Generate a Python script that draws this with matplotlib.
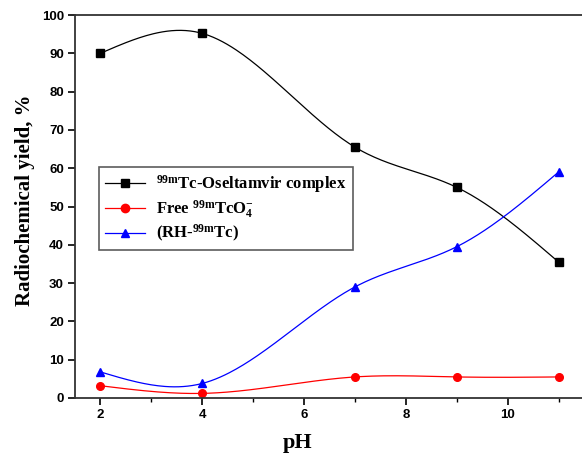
import numpy as np
import matplotlib
matplotlib.use("Agg")
import matplotlib.pyplot as plt

ph = [2, 4, 7, 9, 11]
complex_yield = [90.0, 95.2, 65.5, 55.0, 35.5]
free_tco4 = [3.2, 1.2, 5.5, 5.5, 5.5]
rh_tc = [6.8, 3.8, 29.0, 39.5, 59.0]

labels = [r'$^{\mathrm{99m}}$Tc-Oseltamvir complex',
          r'Free $^{\mathrm{99m}}$TcO$_{\mathrm{4}}^{\mathrm{-}}$',
          r'(RH-$^{\mathrm{99m}}$Tc)']
colors = ['black', 'red', 'blue']
markers = ['s', 'o', '^']

plt.rcParams['mathtext.fontset'] = 'custom'
plt.rcParams['mathtext.rm'] = 'Liberation Serif:bold'
plt.rcParams['mathtext.it'] = 'Liberation Serif:bold'
plt.rcParams['mathtext.bf'] = 'Liberation Serif:bold'


def smooth(x, y, n=200):
    # natural cubic spline, just for drawing the line like Origin does
    x = np.asarray(x, float)
    y = np.asarray(y, float)
    k = len(x)
    h = np.diff(x)
    A = np.zeros((k, k))
    b = np.zeros(k)
    A[0, 0] = A[-1, -1] = 1
    for i in range(1, k - 1):
        A[i, i - 1] = h[i - 1]
        A[i, i] = 2 * (h[i - 1] + h[i])
        A[i, i + 1] = h[i]
        b[i] = 6 * ((y[i + 1] - y[i]) / h[i] - (y[i] - y[i - 1]) / h[i - 1])
    m = np.linalg.solve(A, b)
    xs = np.linspace(x[0], x[-1], n)
    idx = np.clip(np.searchsorted(x, xs) - 1, 0, k - 2)
    x0, x1 = x[idx], x[idx + 1]
    hh = x1 - x0
    t0 = x1 - xs
    t1 = xs - x0
    ys = (m[idx] * t0**3 + m[idx + 1] * t1**3) / (6 * hh) \
        + (y[idx] / hh - m[idx] * hh / 6) * t0 \
        + (y[idx + 1] / hh - m[idx + 1] * hh / 6) * t1
    return xs, ys


fig = plt.figure(figsize=(5.82, 4.55), dpi=100)
ax = fig.add_axes([75 / 582, 57 / 455, 509 / 582, 383 / 455])

handles = []
for ys, c, mk, lab in zip([complex_yield, free_tco4, rh_tc], colors, markers, labels):
    sx, sy = smooth(ph, ys)
    ax.plot(sx, sy, color=c, lw=0.9)
    ax.plot(ph, ys, ls='none', marker=mk, color=c, ms=5.5)
    h, = ax.plot([], [], color=c, lw=0.9, marker=mk, ms=6, label=lab)
    handles.append(h)

ax.set_xlim(1.5, 11.5)
ax.set_ylim(0, 100)
ax.set_xticks([2, 4, 6, 8, 10])
ax.set_xticks([3, 5, 7, 9, 11], minor=True)
ax.set_yticks(range(0, 101, 10))

for s in ['left', 'bottom', 'top']:
    ax.spines[s].set_linewidth(1.3)
    ax.spines[s].set_color('#333333')
ax.spines['right'].set_visible(False)

ax.tick_params(which='major', direction='out', length=5, width=1.2,
               labelsize=9.5, top=False, right=False, pad=3)
ax.tick_params(which='minor', direction='out', length=3, width=1.0, top=False)
for t in ax.get_xticklabels() + ax.get_yticklabels():
    t.set_fontfamily('Liberation Sans')
    t.set_fontweight('bold')

ax.set_ylabel('Radiochemical yield, %', family='Liberation Serif',
              fontweight='bold', fontsize=15, va='center')
ax.yaxis.set_label_coords(-50 / 509, 0.517)
ax.set_xlabel('pH', family='Liberation Serif', fontweight='bold',
              fontsize=16, va='center')
ax.xaxis.set_label_coords(223 / 509, -45 / 383)

leg = ax.legend(handles=handles, loc='upper left',
                bbox_to_anchor=(24 / 509, 1 - 152 / 383),
                prop={'family': 'Liberation Serif', 'weight': 'bold', 'size': 12},
                frameon=True, fancybox=False, edgecolor='#333333',
                handlelength=2.4, handletextpad=0.7, borderpad=0.35,
                labelspacing=0.2, borderaxespad=0)
leg.get_frame().set_linewidth(1.2)

fig.savefig('out.png', dpi=100)
